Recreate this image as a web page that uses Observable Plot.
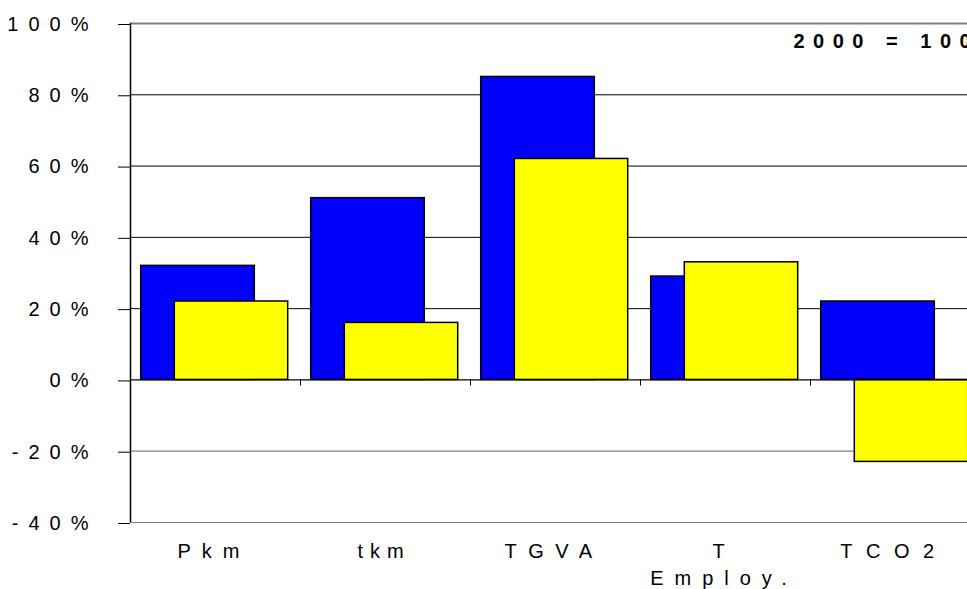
<!DOCTYPE html>
<html>
<head>
<meta charset="utf-8">
<script src="https://cdn.jsdelivr.net/npm/d3@7"></script>
<script src="https://cdn.jsdelivr.net/npm/@observablehq/plot@0.6"></script>
<style>
  html, body { margin: 0; padding: 0; background: #fff; overflow: hidden; }
  #chart svg { display: block; }
  #chart g[aria-label="y-axis tick label"] text { letter-spacing: 10px; }
  #chart g[aria-label="x-axis tick label"] text { letter-spacing: 11px; }
  #chart g[aria-label="x-axis tick label"] text:nth-child(2) { letter-spacing: 7px; }
  #chart g[aria-label="x-axis tick label"] text:nth-child(3) { letter-spacing: 11.5px; }
  #chart g[aria-label="x-axis tick label"] text:nth-child(5) { letter-spacing: 13.5px; }
  #chart g[aria-label="text"] text { letter-spacing: 8.5px; }
</style>
</head>
<body>
<div id="chart"></div>
<script>
const categories = ["Pkm", "tkm", "TGVA", "T\nEmploy.", "TCO2"];
const blueValues = [32, 51, 85, 29, 22];
const yellowValues = [22, 16, 62, 33, -23];
const yTicks = [-40, -20, 0, 20, 40, 60, 80, 100];
const blackGrid = [20, 40, 60, 80];
const greyGrid = [-20, -40];
const note = "2000 = 100";

const blueData = categories.map((c, i) => ({cat: c, v: blueValues[i]}));
const yellowData = categories.map((c, i) => ({cat: c, v: yellowValues[i]}));

const chart = Plot.plot({
  width: 967,
  height: 589,
  marginLeft: 130,
  marginRight: 0,
  marginTop: 23,
  marginBottom: 67,
  style: {fontFamily: "'Liberation Sans', Arial, sans-serif", fontSize: "20px", color: "#000", background: "#fff"},
  x: {domain: categories, range: [130, 980], paddingInner: 0, paddingOuter: 0, label: null},
  y: {domain: [-40, 100], label: null},
  marks: [
    Plot.ruleY(blackGrid, {stroke: "#000", strokeWidth: 1}),
    Plot.ruleY(greyGrid, {stroke: "#808080", strokeWidth: 1.2}),
    Plot.ruleY([100], {stroke: "#808080", strokeWidth: 2}),
    Plot.barY(blueData, {x: "cat", y: "v", fill: "#0000FF", stroke: "#000", strokeWidth: 1.5, insetLeft: 10.7, insetRight: 45.7}),
    Plot.barY(yellowData, {x: "cat", y: "v", fill: "#FFFF00", stroke: "#000", strokeWidth: 1.5, insetLeft: 44.3, insetRight: 12.3}),
    Plot.ruleY([0], {stroke: "#000", strokeWidth: 1.2}),
    Plot.ruleX(categories.slice(0, 4), {dx: 85, y1: 0, y2: -1.7, stroke: "#000", strokeWidth: 1}),
    Plot.ruleX([categories[0]], {dx: -85, y1: -40, y2: 100, stroke: "#000", strokeWidth: 1.5}),
    Plot.axisY(yTicks, {tickSize: 12, tickPadding: 20, tickFormat: d => d + "%", stroke: "#000", fill: "#000", fontSize: 20, dy: 1}),
    Plot.axisX({tickSize: 0, tickPadding: 16, fontSize: 20, fill: "#000", lineHeight: 1.35, dx: -1.5}),
    Plot.text([note], {frameAnchor: "top-left", dx: 663, dy: 10, textAnchor: "start", lineAnchor: "top", fontWeight: "bold", fontSize: 20, fill: "#000"})
  ]
});
document.getElementById("chart").appendChild(chart);
</script>
</body>
</html>
